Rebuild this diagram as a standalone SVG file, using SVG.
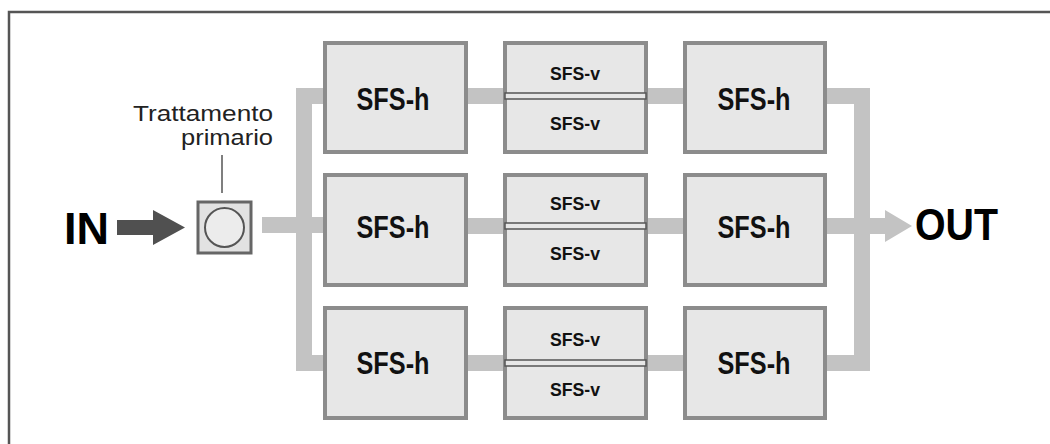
<svg xmlns="http://www.w3.org/2000/svg" width="1050" height="444" viewBox="0 0 1050 444">
<style>
.bus{fill:none;stroke:#c3c3c3;stroke-width:16;stroke-linejoin:miter}
.box{fill:#e7e7e7;stroke:#8c8c8c;stroke-width:4}
.div{fill:#e7e7e7;stroke:#555;stroke-width:1.5}
.h{font-family:"Liberation Sans",Arial,sans-serif;font-weight:bold;font-size:31px;fill:#111;text-anchor:middle}
.v{font-family:"Liberation Sans",Arial,sans-serif;font-weight:bold;font-size:19px;fill:#111;text-anchor:middle}
.big{font-family:"Liberation Sans",Arial,sans-serif;font-weight:bold;font-size:45px;fill:#000}
.lbl{font-family:"Liberation Sans",Arial,sans-serif;font-size:22px;fill:#222;text-anchor:end}
</style>
<rect x="0" y="0" width="1050" height="444" fill="#fff"/>
<rect x="9" y="12" width="1060" height="460" fill="none" stroke="#555" stroke-width="2.5"/>
<g id="connectors">
<polyline class="bus" points="325,96 304,96 304,363 325,363"/>
<line class="bus" x1="262" y1="225" x2="325" y2="225"/>
<line class="bus" x1="466" y1="96" x2="505" y2="96"/>
<line class="bus" x1="646" y1="96" x2="685" y2="96"/>
<line class="bus" x1="466" y1="226" x2="505" y2="226"/>
<line class="bus" x1="646" y1="226" x2="685" y2="226"/>
<line class="bus" x1="466" y1="363" x2="505" y2="363"/>
<line class="bus" x1="646" y1="363" x2="685" y2="363"/>
<polyline class="bus" points="825,96 862,96 862,363 825,363"/>
<line class="bus" x1="825" y1="226" x2="888" y2="226"/>
<polygon points="885,210 912,226 885,242" fill="#c3c3c3"/>
<polygon points="117,220 153,220 153,210 185,227.5 153,245 153,235 117,235" fill="#505050"/>
<line x1="222" y1="155" x2="222" y2="193" stroke="#555" stroke-width="1.5"/>
</g>
<g id="in"><text class="big" x="64" y="244">IN</text></g>
<g id="out"><text class="big" x="915" y="240" textLength="83" lengthAdjust="spacingAndGlyphs">OUT</text></g>
<g id="primary">
<rect x="198" y="202" width="53" height="51" fill="#e2e2e2" stroke="#666" stroke-width="3"/>
<circle cx="224.5" cy="227.5" r="19.5" fill="#ececec" stroke="#555" stroke-width="2"/>
<text class="lbl" x="273" y="121" textLength="140" lengthAdjust="spacingAndGlyphs">Trattamento</text>
<text class="lbl" x="273" y="145" textLength="92" lengthAdjust="spacingAndGlyphs">primario</text>
</g>
<g id="h1a"><rect class="box" x="325" y="43" width="141" height="109"/><text class="h" x="393" y="110" textLength="73" lengthAdjust="spacingAndGlyphs">SFS-h</text></g>
<g id="v1"><rect class="box" x="505" y="43" width="141" height="109"/><rect class="div" x="505" y="93" width="141" height="6"/><text class="v" x="575" y="80" textLength="50" lengthAdjust="spacingAndGlyphs">SFS-v</text><text class="v" x="575" y="130" textLength="50" lengthAdjust="spacingAndGlyphs">SFS-v</text></g>
<g id="h1b"><rect class="box" x="685" y="43" width="140" height="109"/><text class="h" x="754" y="110" textLength="73" lengthAdjust="spacingAndGlyphs">SFS-h</text></g>
<g id="h2a"><rect class="box" x="325" y="175" width="141" height="110"/><text class="h" x="393" y="238" textLength="73" lengthAdjust="spacingAndGlyphs">SFS-h</text></g>
<g id="v2"><rect class="box" x="505" y="175" width="141" height="110"/><rect class="div" x="505" y="223" width="141" height="6"/><text class="v" x="575" y="210" textLength="50" lengthAdjust="spacingAndGlyphs">SFS-v</text><text class="v" x="575" y="260" textLength="50" lengthAdjust="spacingAndGlyphs">SFS-v</text></g>
<g id="h2b"><rect class="box" x="685" y="175" width="140" height="110"/><text class="h" x="754" y="238" textLength="73" lengthAdjust="spacingAndGlyphs">SFS-h</text></g>
<g id="h3a"><rect class="box" x="325" y="308" width="141" height="110"/><text class="h" x="393" y="374" textLength="73" lengthAdjust="spacingAndGlyphs">SFS-h</text></g>
<g id="v3"><rect class="box" x="505" y="308" width="141" height="110"/><rect class="div" x="505" y="360" width="141" height="6"/><text class="v" x="575" y="346" textLength="50" lengthAdjust="spacingAndGlyphs">SFS-v</text><text class="v" x="575" y="396" textLength="50" lengthAdjust="spacingAndGlyphs">SFS-v</text></g>
<g id="h3b"><rect class="box" x="685" y="308" width="140" height="110"/><text class="h" x="754" y="374" textLength="73" lengthAdjust="spacingAndGlyphs">SFS-h</text></g>
</svg>
